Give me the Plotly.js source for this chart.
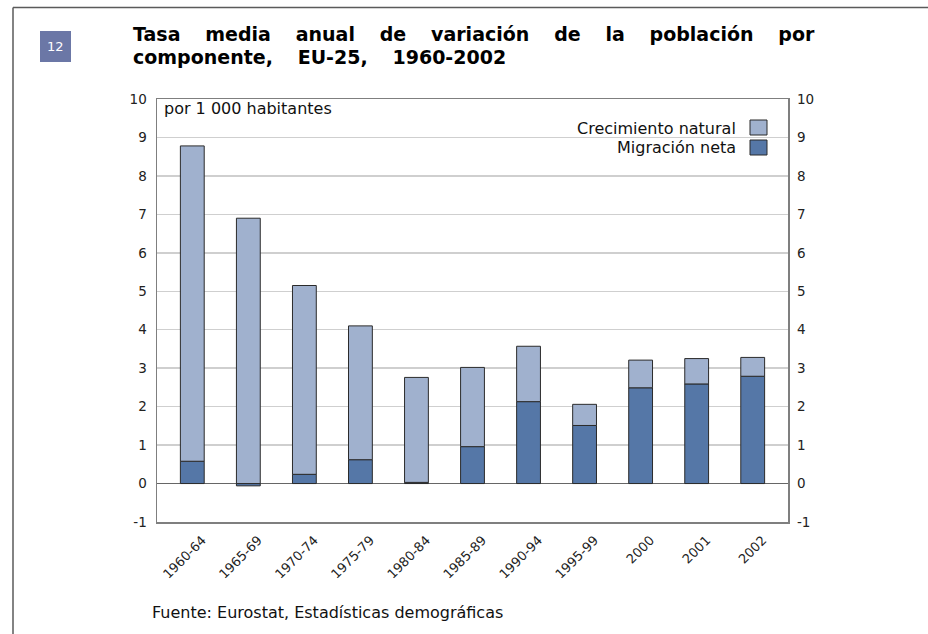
<!DOCTYPE html>
<html>
<head>
<meta charset="utf-8">
<script src="https://cdn.plot.ly/plotly-3.0.1.min.js"></script>
<style>
html,body{margin:0;padding:0;background:#fff;}
#chart{width:928px;height:634px;}
</style>
</head>
<body>
<div id="chart"></div>
<script>
const categories = ["1960-64","1965-69","1970-74","1975-79","1980-84","1985-89","1990-94","1995-99","2000","2001","2002"];
const migracionNeta = [0.58, -0.06, 0.24, 0.62, 0.03, 0.96, 2.13, 1.51, 2.49, 2.59, 2.79];
const crecimientoNatural = [8.2, 6.9, 4.91, 3.48, 2.73, 2.06, 1.44, 0.55, 0.72, 0.66, 0.49];
const yTickVals = [-1,0,1,2,3,4,5,6,7,8,9,10];
const yTickText = ["-1","0","1","2","3","4","5","6","7","8","9","10"];
const seriesNames = ["Crecimiento natural","Migración neta"];
const totals = categories.map((c,i)=>migracionNeta[i]+crecimientoNatural[i]);

const FONT = "DejaVu Sans, Verdana, sans-serif";
const colNat = "#a0b1ce";
const colMig = "#5577a7";

const L=157, R=788, T=99, B=522, W=928, H=634;
const px = x => (x-L)/(R-L);
const py = y => (B-y)/(B-T);

const traces = [
  {type:"bar", x:categories, y:migracionNeta, name:seriesNames[1],
   marker:{color:colMig, line:{color:"#2b2b2b", width:1}}, showlegend:false, hoverinfo:"skip"},
  {type:"bar", x:categories, y:crecimientoNatural, name:seriesNames[0],
   marker:{color:colNat, line:{color:"#2b2b2b", width:1}}, showlegend:false, hoverinfo:"skip"},
  {type:"scatter", mode:"markers", x:categories, y:totals, yaxis:"y2",
   marker:{opacity:0}, showlegend:false, hoverinfo:"skip"}
];

const layout = {
  width:W, height:H,
  margin:{l:L, r:W-R, t:T, b:H-B, pad:0},
  paper_bgcolor:"#fff", plot_bgcolor:"#fff",
  barmode:"relative", bargap:0.575,
  font:{family:FONT, size:13, color:"#222"},
  xaxis:{type:"category", tickangle:-45, tickfont:{size:13, family:FONT, color:"#222"},
    ticklabelshift:10, ticklabelstandoff:4,
    showline:true, linecolor:"#7f7f7f", linewidth:1.5, mirror:true,
    ticks:"", showgrid:false, automargin:false, fixedrange:true},
  yaxis:{range:[-1,10], tickvals:yTickVals, ticktext:yTickText,
    showgrid:true, gridcolor:"#cfcfcf", gridwidth:1.5,
    zeroline:true, zerolinecolor:"#666", zerolinewidth:1.2,
    showline:true, linecolor:"#7f7f7f", linewidth:1.5, mirror:true,
    ticks:"", ticklabelstandoff:6, tickfont:{size:13.5, family:FONT, color:"#222"},
    automargin:false, fixedrange:true},
  yaxis2:{range:[-1,10], tickvals:yTickVals, ticktext:yTickText, overlaying:"y", side:"right",
    showgrid:false, zeroline:false, showline:false, ticks:"", ticklabelstandoff:8,
    tickfont:{size:13.5, family:FONT, color:"#222"}, automargin:false, fixedrange:true},
  shapes:[
    {type:"line", xref:"paper", yref:"paper", x0:px(13), x1:px(928), y0:py(7.5), y1:py(7.5), line:{color:"#5a5a5a", width:1.5}},
    {type:"line", xref:"paper", yref:"paper", x0:px(13), x1:px(13), y0:py(7.5), y1:py(634), line:{color:"#5a5a5a", width:1.5}},
    {type:"rect", xref:"paper", yref:"paper", x0:px(40), x1:px(71), y0:py(31), y1:py(62), fillcolor:"#6b77a6", line:{width:0}},
    {type:"rect", xref:"paper", yref:"paper", x0:px(750), x1:px(767), y0:py(120), y1:py(135), fillcolor:colNat, line:{color:"#2b2b2b", width:1}},
    {type:"rect", xref:"paper", yref:"paper", x0:px(750), x1:px(767), y0:py(140), y1:py(155), fillcolor:colMig, line:{color:"#2b2b2b", width:1}}
  ],
  annotations:[
    {text:"Tasa media anual de variación de la población por", xref:"paper", yref:"paper",
     x:px(133), y:py(34), xanchor:"left", yanchor:"middle", showarrow:false,
     font:{family:FONT, size:19, color:"#000", weight:"bold"}},
    {text:"componente, EU-25, 1960-2002", xref:"paper", yref:"paper",
     x:px(133), y:py(57), xanchor:"left", yanchor:"middle", showarrow:false,
     font:{family:FONT, size:19, color:"#000", weight:"bold"}},
    {text:"12", xref:"paper", yref:"paper", x:px(55.5), y:py(46.5), xanchor:"center", yanchor:"middle",
     showarrow:false, font:{family:FONT, size:13, color:"#fff"}},
    {text:"por 1 000 habitantes", xref:"paper", yref:"paper", x:px(162), y:py(108),
     xanchor:"left", yanchor:"middle", showarrow:false, font:{family:FONT, size:16, color:"#111"}},
    {text:seriesNames[0], xref:"paper", yref:"paper", x:px(738), y:py(128),
     xanchor:"right", yanchor:"middle", showarrow:false, font:{family:FONT, size:16, color:"#111"}},
    {text:seriesNames[1], xref:"paper", yref:"paper", x:px(738), y:py(147),
     xanchor:"right", yanchor:"middle", showarrow:false, font:{family:FONT, size:16, color:"#111"}},
    {text:"Fuente: Eurostat, Estadísticas demográficas", xref:"paper", yref:"paper", x:px(150), y:py(612),
     xanchor:"left", yanchor:"middle", showarrow:false, font:{family:FONT, size:16, color:"#111"}}
  ]
};

Plotly.newPlot("chart", traces, layout, {displayModeBar:false, staticPlot:true}).then(gd=>{
  const texts = gd.querySelectorAll(".annotation-text");
  const t1 = texts[0], t2 = texts[1];
  if(t1 && t2){
    const host = gd.getBoundingClientRect();
    const len = t1.getBoundingClientRect().width;
    const ws = Math.max(0,((815-133)-len)/8);
    [t1,t2].forEach(t=>{
      t.style.wordSpacing = ws + "px";
      const r = t.getBoundingClientRect();
      const dx = (133 + host.left) - r.left;
      t.setAttribute("transform", "translate(" + dx + ",0)");
    });
  }
});
</script>
</body>
</html>
